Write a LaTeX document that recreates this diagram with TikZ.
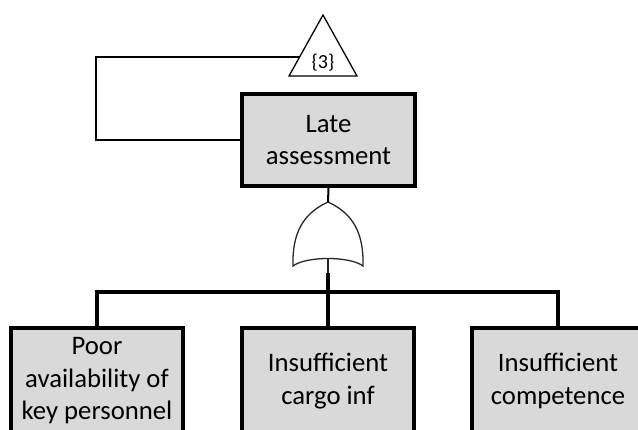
\documentclass[tikz,border=0pt]{standalone}
\usepackage{fontspec}
\setmainfont{Carlito}
\definecolor{boxgray}{HTML}{D9D9D9}

\begin{document}
\begin{tikzpicture}[x=1pt,y=-1pt]
    \tikzstyle{event}=[draw=black,fill=boxgray,line width=4pt,minimum width=172pt,minimum height=106pt,inner sep=0pt,align=center,font=\fontsize{26.7}{32.5}\selectfont]
    \tikzstyle{wire}=[line width=3.5pt]
    \tikzstyle{thin}=[line width=1.3pt,black!85]
    \useasboundingbox (0,0) rectangle (638,430);

    \node[event,minimum width=173pt,minimum height=92pt] (E-top) at (328.5,140) {Late\\assessment};

    \foreach \num/\x/\txt in {1/97/{Poor\\availability of\\key personnel}, 2/328/{Insufficient\\cargo inf}, 3/558/{Insufficient\\competence}}
        \node[event] (E-\num) at (\x,381) {\txt};

    % transfer triangle
    \coordinate (X-top) at (323,15);
    \coordinate (X-left) at (289,76);
    \coordinate (X-right) at (357,76);
    \coordinate (X-in) at (299.6,57);
    \draw[thin,black] (X-top) -- (X-right) -- (X-left) -- cycle;
    \node[font=\fontsize{20}{24}\selectfont] (X-lbl) at (323,63) {\{3\}};
    \draw[line width=2pt] (E-top.west) -- ++(-144,0) |- (X-in);

    % or gate
    \coordinate (G-top) at (328,202);
    \coordinate (G-left) at (293,266);
    \coordinate (G-right) at (363,266);
    \coordinate (G-base) at (328,258);
    \coordinate (G-out) at (328,273);
    \draw[thin] (G-left) .. controls (292,232) and (304,213) .. (G-top)
        .. controls (352,213) and (364,232) .. (G-right)
        .. controls (350,256) and (306,256) .. (G-left) -- cycle;
    \draw[line width=2pt] (E-top.south) -- (G-top);
    \draw[thin] (G-base) -- (G-out);

    \coordinate (bus) at (328,292);
    \draw[wire] (G-out) -- (E-2.north);
    \draw[wire] (E-1.north) |- (bus) -| (E-3.north);
\end{tikzpicture}
\end{document}
